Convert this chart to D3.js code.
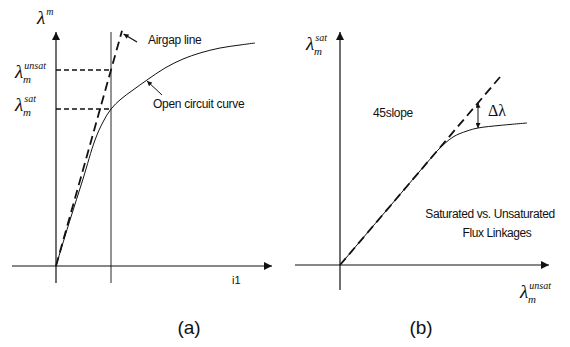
<!DOCTYPE html>
<html>
<head>
<meta charset="utf-8">
<script src="https://cdn.jsdelivr.net/npm/d3@7"></script>
<style>
  body { margin: 0; background: #fff; }
  text { font-family: 'Liberation Sans', Arial, sans-serif; fill: #111; }
  .sym { font-family: 'Liberation Serif', 'DejaVu Serif', serif; font-style: italic; }
</style>
</head>
<body>
<script>
// Chart settings
const width = 570
const height = 347

// Panel (a) data: current vs flux linkage (arbitrary units)
const openCircuit = [
  [0, 0], [0.7, 2.3], [1.35, 4.35], [1.95, 6.3], [2.35, 7.2], [2.75, 7.85],
  [3.25, 8.35], [3.85, 8.8], [4.55, 9.3], [5.45, 9.9], [6.35, 10.35],
  [7.2, 10.65], [8.2, 10.9], [9.2, 11.05], [9.95, 11.15]
]
const airgapLine = [[0, 0], [3.3, 11.76]]
const operatingCurrent = 2.75
const lambdaUnsat = 9.8
const lambdaSat = 7.85

// Panel (b) data: unsaturated vs saturated flux linkage
const slopeLine = [[0, 0], [8, 9.4]]
const satCurve = [
  [0, 0], [2.5, 2.94], [4.5, 5.29], [4.9, 5.75], [5.65, 6.4], [6.35, 6.7],
  [6.9, 6.85], [8, 6.98], [9.35, 7.1]
]
const deltaX = 6.9

const svg = d3.select('body')
  .append('svg')
  .attr('width', width)
  .attr('height', height)

// Arrowhead markers
const defs = svg.append('defs')
defs.append('marker')
  .attr('id', 'head')
  .attr('viewBox', '0 0 10 10')
  .attr('refX', 10)
  .attr('refY', 5)
  .attr('markerWidth', 10)
  .attr('markerHeight', 8)
  .attr('markerUnits', 'userSpaceOnUse')
  .attr('orient', 'auto-start-reverse')
  .append('path')
  .attr('d', 'M0,0 L10,5 L0,10 Z')
  .attr('fill', '#111')

defs.append('marker')
  .attr('id', 'small')
  .attr('viewBox', '0 0 10 10')
  .attr('refX', 10)
  .attr('refY', 5)
  .attr('markerWidth', 6)
  .attr('markerHeight', 5)
  .attr('markerUnits', 'userSpaceOnUse')
  .attr('orient', 'auto-start-reverse')
  .append('path')
  .attr('d', 'M0,0 L10,5 L0,10 Z')
  .attr('fill', '#111')

const line = (x, y) => d3.line().x(d => x(d[0])).y(d => y(d[1]))

function seg(g, x1, y1, x2, y2) {
  return g.append('line')
    .attr('x1', x1).attr('y1', y1)
    .attr('x2', x2).attr('y2', y2)
    .attr('stroke', '#111')
}

// Lambda label with sub/superscript
function lambdaLabel(g, x, y, sup, sub) {
  const t = g.append('text').attr('x', x).attr('y', y).attr('class', 'sym')
  t.append('tspan').text('λ').style('font-size', '19px')
  if (sup) {
    t.append('tspan').text(sup).attr('dx', 1).attr('dy', -9).style('font-size', '10px')
  }
  if (sub) {
    t.append('tspan').text(sub)
      .attr('x', x + 8).attr('y', y + 5)
      .style('font-size', '11px')
  }
  return t
}

// ---------- Panel (a) ----------
const xA = d3.scaleLinear().domain([0, 10]).range([56, 256])
const yA = d3.scaleLinear().domain([0, 10]).range([266, 66])
const ga = svg.append('g')

// Axes
seg(ga, xA(-2.2), yA(0), xA(10.8), yA(0)).attr('stroke-width', 1.2).attr('marker-end', 'url(#head)')
seg(ga, xA(0), yA(-0.85), xA(0), yA(11.7)).attr('stroke-width', 1.2).attr('marker-end', 'url(#head)')

// Vertical line at operating current
seg(ga, xA(operatingCurrent), yA(-0.85), xA(operatingCurrent), yA(11.7)).attr('stroke-width', 0.9)

// Dashed level lines
seg(ga, xA(0), yA(lambdaUnsat), xA(operatingCurrent), yA(lambdaUnsat))
  .attr('stroke-width', 1.3).attr('stroke-dasharray', '5,3')
seg(ga, xA(0), yA(lambdaSat), xA(operatingCurrent), yA(lambdaSat))
  .attr('stroke-width', 1.3).attr('stroke-dasharray', '5,3')

// Airgap line
ga.append('path')
  .datum(airgapLine)
  .attr('d', line(xA, yA))
  .attr('fill', 'none')
  .attr('stroke', '#111')
  .attr('stroke-width', 1.8)
  .attr('stroke-dasharray', '9,5')

// Open circuit curve
ga.append('path')
  .datum(openCircuit)
  .attr('d', line(xA, yA).curve(d3.curveCatmullRom.alpha(0.5)))
  .attr('fill', 'none')
  .attr('stroke', '#111')
  .attr('stroke-width', 1)

// Pointer arrows
seg(ga, xA(4.05), yA(11.2), xA(3.38), yA(11.6)).attr('stroke-width', 1.3).attr('marker-end', 'url(#small)')
seg(ga, xA(5.3), yA(8.55), xA(4.55), yA(9.25)).attr('stroke-width', 1).attr('marker-end', 'url(#small)')

// Labels
ga.append('text').attr('x', 148).attr('y', 44).text('Airgap line').style('font-size', '12px').style('letter-spacing', '-0.3px')
ga.append('text').attr('x', 153).attr('y', 108).text('Open circuit curve').style('font-size', '12px').style('letter-spacing', '-0.3px')
ga.append('text').attr('x', 232).attr('y', 284).text('i1').style('font-size', '11px')

lambdaLabel(ga, 37, 24, 'm')
lambdaLabel(ga, 15, 78, 'unsat', 'm')
lambdaLabel(ga, 15, 111, 'sat', 'm')

// ---------- Panel (b) ----------
const xB = d3.scaleLinear().domain([0, 10]).range([340, 540])
const yB = d3.scaleLinear().domain([0, 10]).range([265, 65])
const gb = svg.append('g')

seg(gb, xB(-2.25), yB(0), xB(10.45), yB(0)).attr('stroke-width', 1.2).attr('marker-end', 'url(#head)')
seg(gb, xB(0), yB(-1.25), xB(0), yB(11.65)).attr('stroke-width', 1.2).attr('marker-end', 'url(#head)')

gb.append('path')
  .datum(slopeLine)
  .attr('d', line(xB, yB))
  .attr('fill', 'none')
  .attr('stroke', '#111')
  .attr('stroke-width', 1.8)
  .attr('stroke-dasharray', '9,5')

gb.append('path')
  .datum(satCurve)
  .attr('d', line(xB, yB).curve(d3.curveCatmullRom.alpha(0.5)))
  .attr('fill', 'none')
  .attr('stroke', '#111')
  .attr('stroke-width', 1)

// Delta lambda double arrow
const deltaTop = slopeLine[1][1] / slopeLine[1][0] * deltaX
seg(gb, xB(deltaX), yB(6.85), xB(deltaX), yB(deltaTop))
  .attr('stroke-width', 1)
  .attr('marker-start', 'url(#small)')
  .attr('marker-end', 'url(#small)')

gb.append('text').attr('x', 488).attr('y', 116).attr('class', 'sym').text('Δλ').style('font-size', '16px').style('font-style', 'normal')
gb.append('text').attr('x', 373).attr('y', 117).text('45slope').style('font-size', '12px').style('letter-spacing', '-0.3px')
gb.append('text').attr('x', 490).attr('y', 218).attr('text-anchor', 'middle').text('Saturated vs. Unsaturated').style('font-size', '12px').style('letter-spacing', '-0.4px')
gb.append('text').attr('x', 497).attr('y', 237).attr('text-anchor', 'middle').text('Flux Linkages').style('font-size', '12px').style('letter-spacing', '-0.4px')

lambdaLabel(gb, 306, 50, 'sat', 'm')
lambdaLabel(gb, 520, 298, 'unsat', 'm')

// Panel captions
svg.append('text').attr('x', 189).attr('y', 334).attr('text-anchor', 'middle').text('(a)').style('font-size', '19px')
svg.append('text').attr('x', 421).attr('y', 334).attr('text-anchor', 'middle').text('(b)').style('font-size', '19px')
</script>
</body>
</html>
